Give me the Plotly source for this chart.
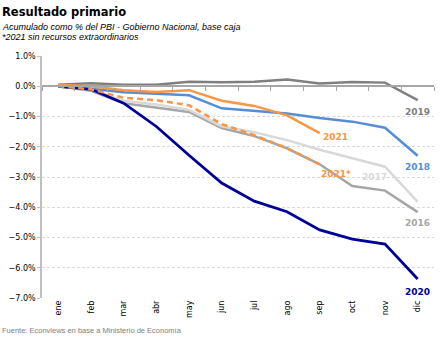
import plotly.graph_objects as go

months = ["ene", "feb", "mar", "abr", "may", "jun", "jul", "ago", "sep", "oct", "nov", "dic"]

y2016 = [0.0, -0.15, -0.56, -0.70, -0.85, -1.38, -1.65, -2.05, -2.58, -3.30, -3.45, -4.16]
y2017 = [0.0, -0.12, -0.48, -0.60, -0.78, -1.32, -1.52, -1.78, -2.10, -2.38, -2.66, -3.82]
y2018 = [0.0, -0.08, -0.20, -0.25, -0.30, -0.73, -0.81, -0.90, -1.05, -1.17, -1.37, -2.30]
y2019 = [0.05, 0.10, 0.05, 0.05, 0.15, 0.13, 0.15, 0.22, 0.09, 0.14, 0.12, -0.46]
y2020 = [0.0, -0.10, -0.56, -1.33, -2.28, -3.20, -3.80, -4.15, -4.75, -5.05, -5.22, -6.37]
y2021 = [0.05, 0.0, -0.13, -0.19, -0.13, -0.48, -0.65, -0.96, -1.55]
y2021s = [0.0, -0.10, -0.38, -0.46, -0.63, -1.25, -1.62, -2.05, -2.58]

series = [
    ("2016", y2016, "#a6a6a6", 2.5, "solid", 11, 0, -11),
    ("2017", y2017, "#d9d9d9", 2.5, "solid", 10, -11, -10),
    ("2018", y2018, "#558ed5", 2.5, "solid", 11, 0, -11),
    ("2019", y2019, "#7f7f7f", 2.5, "solid", 11, 0, -12),
    ("2020", y2020, "#000099", 2.8, "solid", 11, 0, -13),
    ("2021", y2021, "#f79646", 2.5, "solid", 8, 16, -4),
    ("2021*", y2021s, "#f79646", 2.5, "dash", 8, 16, -10),
]

fig = go.Figure()
for name, vals, color, w, dash, li, xs, ys in series:
    fig.add_trace(go.Scatter(
        x=months[:len(vals)], y=vals, mode="lines", name=name,
        line=dict(color=color, width=w, dash=dash if dash == "solid" else "6px,4px"),
        showlegend=False, hoverinfo="skip"))
    fig.add_annotation(x=months[li], y=vals[li], text="<b>" + name + "</b>",
                       showarrow=False, xshift=xs, yshift=ys,
                       font=dict(family="DejaVu Sans", size=9, color=color))

# invisible trace for zero-line category axis with ticks
fig.add_trace(go.Scatter(x=months, y=[0] * 12, xaxis="x2", mode="lines",
                         line=dict(width=0), showlegend=False, hoverinfo="skip"))

fig.update_layout(
    width=443, height=340,
    margin=dict(l=42, r=9, t=56, b=42),
    plot_bgcolor="white", paper_bgcolor="white",
    xaxis=dict(type="category", categoryorder="array", categoryarray=months,
               range=[-0.5, 11.5], tickangle=-90, showgrid=False, showline=False,
               ticks="", tickfont=dict(family="DejaVu Sans", size=8, color="#000000")),
    xaxis2=dict(type="category", categoryorder="array", categoryarray=months,
                range=[-0.5, 11.5], overlaying="x", anchor="free", position=0.875,
                showline=True, linecolor="#a6a6a6", linewidth=1.5, ticks="outside",
                ticklen=4, tickcolor="#a6a6a6", tickson="boundaries",
                showticklabels=False, showgrid=False),
    yaxis=dict(range=[-7, 1], dtick=1, tick0=0, tickformat=".1f", ticksuffix="%",
               showgrid=True, gridcolor="#d9d9d9", griddash="3px,2px", gridwidth=1,
               zeroline=False, showline=True, linecolor="#bfbfbf", linewidth=1.5,
               ticks="outside", ticklen=3, tickcolor="#bfbfbf",
               tickfont=dict(family="DejaVu Sans", size=8, color="#000000")),
)

fig.add_annotation(xref="paper", yref="paper", x=-42 / 392, y=1 + 44 / 242, xanchor="left",
                   yanchor="middle", showarrow=False, text="<b>Resultado primario</b>",
                   font=dict(family="DejaVu Sans", size=11.5, color="#000000"))
fig.add_annotation(xref="paper", yref="paper", x=-42 / 392, y=1 + 29 / 242, xanchor="left",
                   yanchor="middle", showarrow=False,
                   text="<i>Acumulado como % del PBI - Gobierno Nacional, base caja</i>",
                   font=dict(family="Liberation Sans", size=9, color="#000000"))
fig.add_annotation(xref="paper", yref="paper", x=-42 / 392, y=1 + 19 / 242, xanchor="left",
                   yanchor="middle", showarrow=False,
                   text="<i>*2021 sin recursos extraordinarios</i>",
                   font=dict(family="Liberation Sans", size=9, color="#000000"))
fig.add_annotation(xref="paper", yref="paper", x=-42 / 392, y=-33 / 242, xanchor="left",
                   yanchor="middle", showarrow=False,
                   text="Fuente: Econviews en base a Ministerio de Economía",
                   font=dict(family="Liberation Sans", size=7.5, color="#808080"))

fig.write_html("out.html")
